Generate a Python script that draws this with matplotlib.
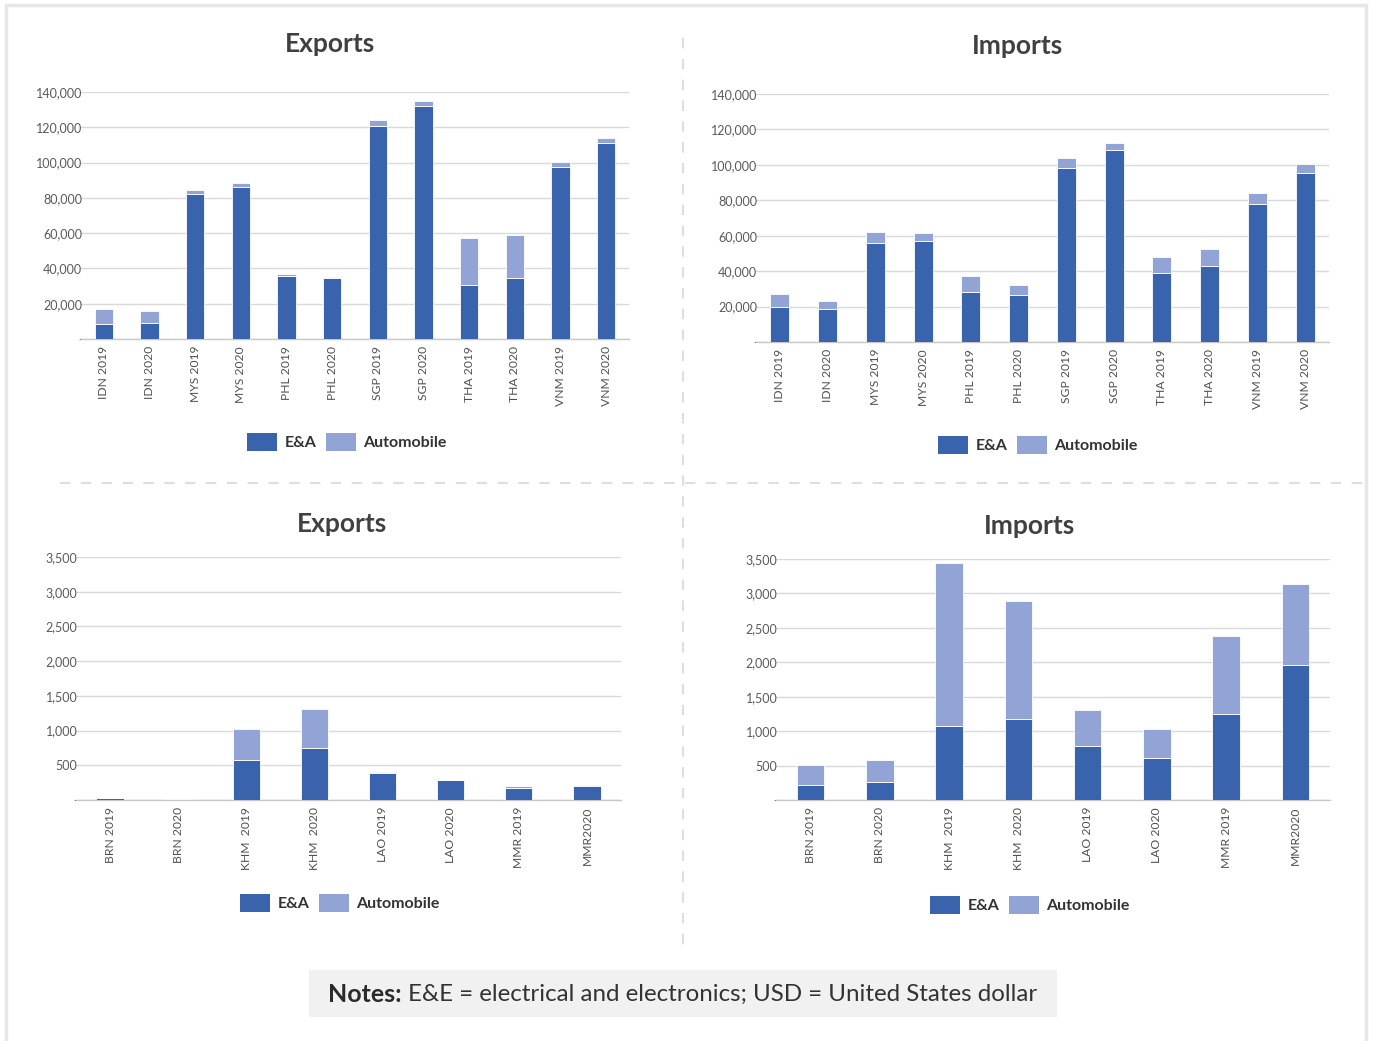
import matplotlib
matplotlib.use("Agg")
import matplotlib.pyplot as plt
from matplotlib.patches import Rectangle, Patch
from matplotlib.lines import Line2D
from matplotlib.ticker import FuncFormatter

plt.rcParams["font.family"] = ["Lato", "DejaVu Sans"]

# ---- data (USD million) ----
big_labels = ["IDN 2019", "IDN 2020", "MYS 2019", "MYS 2020", "PHL 2019", "PHL 2020",
              "SGP 2019", "SGP 2020", "THA 2019", "THA 2020", "VNM 2019", "VNM 2020"]
big_exp_ea = [8700, 9100, 82100, 86400, 35900, 34400, 120600, 131800, 30800, 34400, 97300, 111000]
big_exp_auto = [8200, 6700, 2300, 1900, 1000, 800, 3400, 3300, 26600, 24300, 2800, 3000]
big_imp_ea = [19800, 18800, 55800, 57100, 28100, 26700, 98000, 108600, 38700, 43000, 77800, 95400]
big_imp_auto = [7100, 4600, 6500, 4700, 8900, 5400, 5600, 3900, 9300, 9500, 6200, 5300]

small_labels = ["BRN 2019", "BRN 2020", "KHM  2019", "KHM  2020", "LAO 2019", "LAO 2020",
                "MMR 2019", "MMR2020"]
small_exp_ea = [30, 3, 570, 755, 395, 282, 175, 195]
small_exp_auto = [5, 10, 447, 560, 5, 5, 25, 19]
small_imp_ea = [212, 261, 1068, 1177, 783, 610, 1245, 1954]
small_imp_auto = [295, 325, 2378, 1713, 522, 419, 1138, 1182]

big_ticks = [0, 20000, 40000, 60000, 80000, 100000, 120000, 140000]
small_ticks = [0, 500, 1000, 1500, 2000, 2500, 3000, 3500]

EA_COLOR = "#3964ad"
AUTO_COLOR = "#91a4d5"
GRID = "#d9d9d9"
TXT = "#505050"

W, H = 1373, 1041
fig = plt.figure(figsize=(W / 100, H / 100), dpi=100)


def box(l, t, r, b):
    return [l / W, 1 - b / H, (r - l) / W, (b - t) / H]


def fmt(v, _):
    return "-" if v == 0 else f"{int(v):,}"


def panel(rect, labels, ea, auto, ticks, title, title_xy, legend_xy):
    ax = fig.add_axes(rect)
    x = list(range(len(labels)))
    ax.bar(x, ea, width=0.4, color=EA_COLOR, edgecolor="white", linewidth=0.6, zorder=3)
    ax.bar(x, auto, width=0.4, bottom=ea, color=AUTO_COLOR, edgecolor="white",
           linewidth=0.6, zorder=3)
    ax.set_xlim(-0.5, len(labels) - 0.5)
    ax.set_ylim(0, ticks[-1])
    ax.set_yticks(ticks)
    ax.yaxis.set_major_formatter(FuncFormatter(fmt))
    ax.grid(axis="y", color=GRID, linewidth=1.0, zorder=0)
    for s in ("top", "right", "left"):
        ax.spines[s].set_visible(False)
    ax.spines["bottom"].set_color("#c8c8c8")
    ax.spines["bottom"].set_linewidth(1.0)
    ax.set_xticks(x)
    ax.set_xticklabels(labels, rotation=90, fontsize=8.7, color=TXT)
    ax.tick_params(axis="both", length=0)
    ax.tick_params(axis="x", pad=5)
    ax.tick_params(axis="y", pad=-1, labelsize=9, labelcolor="#5a5a5a")
    fig.text(title_xy[0] / W, 1 - title_xy[1] / H, title, ha="center", va="center",
             fontsize=19, fontweight="bold", color="#404040")
    handles = [Patch(facecolor=EA_COLOR, label="E&A"),
               Patch(facecolor=AUTO_COLOR, label="Automobile")]
    fig.legend(handles=handles, loc="center", ncol=2, frameon=False,
               bbox_to_anchor=(legend_xy[0] / W, 1 - legend_xy[1] / H),
               prop={"size": 11.5, "weight": "bold"}, handlelength=1.9, handleheight=1.3,
               handletextpad=0.45, columnspacing=0.6, labelcolor="#333333")
    return ax


panel(box(81, 92, 629, 339), big_labels, big_exp_ea, big_exp_auto, big_ticks,
      "Exports", (330, 44), (347, 442))
panel(box(756, 94, 1329, 342), big_labels, big_imp_ea, big_imp_auto, big_ticks,
      "Imports", (1017, 46), (1038, 445))
panel(box(76, 557, 621, 800), small_labels, small_exp_ea, small_exp_auto, small_ticks,
      "Exports", (342, 524), (340, 903))
panel(box(776, 559, 1330, 800), small_labels, small_imp_ea, small_imp_auto, small_ticks,
      "Imports", (1030, 526), (1030, 905))

# separators between the four panels
fig.add_artist(Line2D([683 / W, 683 / W], [1 - 38 / H, 1 - 950 / H], transform=fig.transFigure,
                      color="#dedede", linewidth=1.5, linestyle=(0, (5, 5))))
fig.add_artist(Line2D([60 / W, 1366 / W], [1 - 483 / H, 1 - 483 / H], transform=fig.transFigure,
                      color="#dedede", linewidth=1.5, linestyle=(0, (5, 5))))

# outer frame
fig.add_artist(Rectangle((6 / W, -0.02), (1360 / W), 1 - 5 / H + 0.02, transform=fig.transFigure,
                         fill=False, edgecolor="#e6e6e6", linewidth=2.5))

# notes box
fig.add_artist(Rectangle((309 / W, 1 - 1017 / H), (1057 - 309) / W, 47 / H,
                         transform=fig.transFigure, facecolor="#f1f1f1", edgecolor="none"))
t1 = fig.text(328 / W, 1 - 994 / H, "Notes:", ha="left", va="center", fontsize=18,
              fontweight="bold", color="#2b2b2b")
fig.canvas.draw()
bb = t1.get_window_extent()
fig.text(bb.x1 / W + 6 / W, 1 - 994 / H,
         "E&E = electrical and electronics; USD = United States dollar",
         ha="left", va="center", fontsize=17.4, color="#333333")

fig.savefig("out.png", dpi=100, facecolor="white")
